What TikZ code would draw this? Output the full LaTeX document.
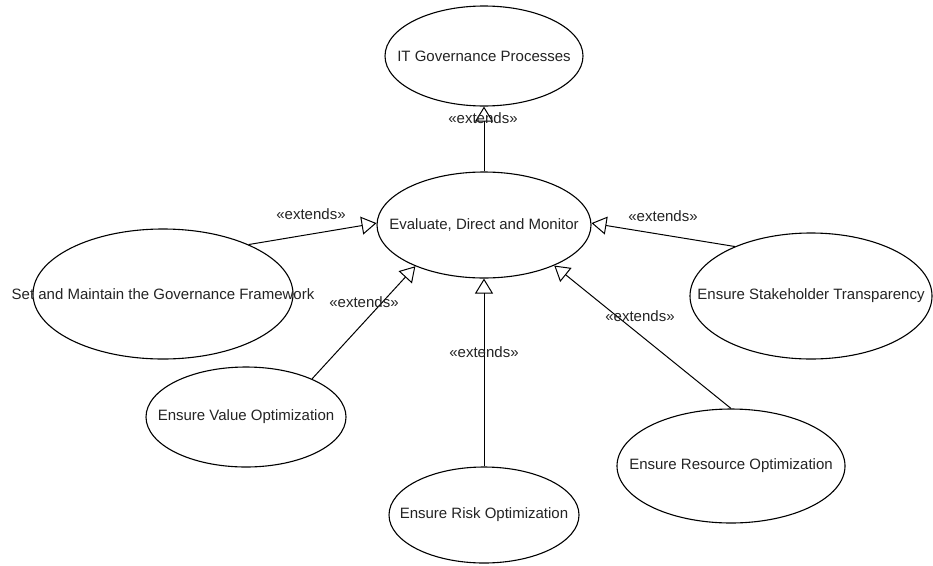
\documentclass[tikz,border=0pt]{standalone}
\usepackage{fontspec}
\setmainfont{Liberation Sans}
\usetikzlibrary{shapes.geometric,arrows.meta}
\definecolor{ink}{RGB}{35,35,35}
\newcommand\uctext[1]{\makebox[0pt]{#1}}
\begin{document}
\begin{tikzpicture}[x=1pt,y=-1pt,
  usecase/.style={ellipse,draw=black,line width=1.1pt,inner sep=0pt,
    text=ink,font=\fontsize{15}{18}\selectfont},
  extlabel/.style={text=ink,font=\fontsize{15}{18}\selectfont,inner sep=0pt},
  extends/.style={draw=black,line width=1pt,
    -{Triangle[open,length=15pt,width=18pt,line width=1pt]}}]
\useasboundingbox (0,0) rectangle (933,565);

% use cases
\node[usecase,minimum width=198,minimum height=100] (itg) at (484,56) {\uctext{IT Governance Processes}};
\node[usecase,minimum width=214,minimum height=106] (edm) at (484,225) {\uctext{Evaluate, Direct and Monitor}};
\node[usecase,minimum width=260,minimum height=130] (smg) at (163,294) {\uctext{Set and Maintain the Governance Framework}};
\node[usecase,minimum width=200,minimum height=100] (evo) at (246,417) {\uctext{Ensure Value Optimization}};
\node[usecase,minimum width=190,minimum height=96] (ero) at (484,515) {\uctext{Ensure Risk Optimization}};
\node[usecase,minimum width=228,minimum height=114] (eres) at (731,466) {\uctext{Ensure Resource Optimization}};
\node[usecase,minimum width=242,minimum height=126] (est) at (811,296) {\uctext{Ensure Stakeholder Transparency}};

% extends relations
\draw[extends] (edm.north) -- (itg.south);
\draw[extends] (smg.30.8) -- (edm.179);
\draw[extends] (evo.30.6) -- (edm.211);
\draw[extends] (ero.north) -- (edm.south);
\draw[extends] (eres.90) -- (edm.330);
\draw[extends] (est.147.6) -- (edm.1);

% stereotype labels
\node[extlabel] (x1) at (483,118) {«extends»};
\node[extlabel] (x2) at (311,214) {«extends»};
\node[extlabel] (x3) at (364,302) {«extends»};
\node[extlabel] (x4) at (484,352) {«extends»};
\node[extlabel] (x5) at (640,316) {«extends»};
\node[extlabel] (x6) at (663,216) {«extends»};
\end{tikzpicture}
\end{document}
